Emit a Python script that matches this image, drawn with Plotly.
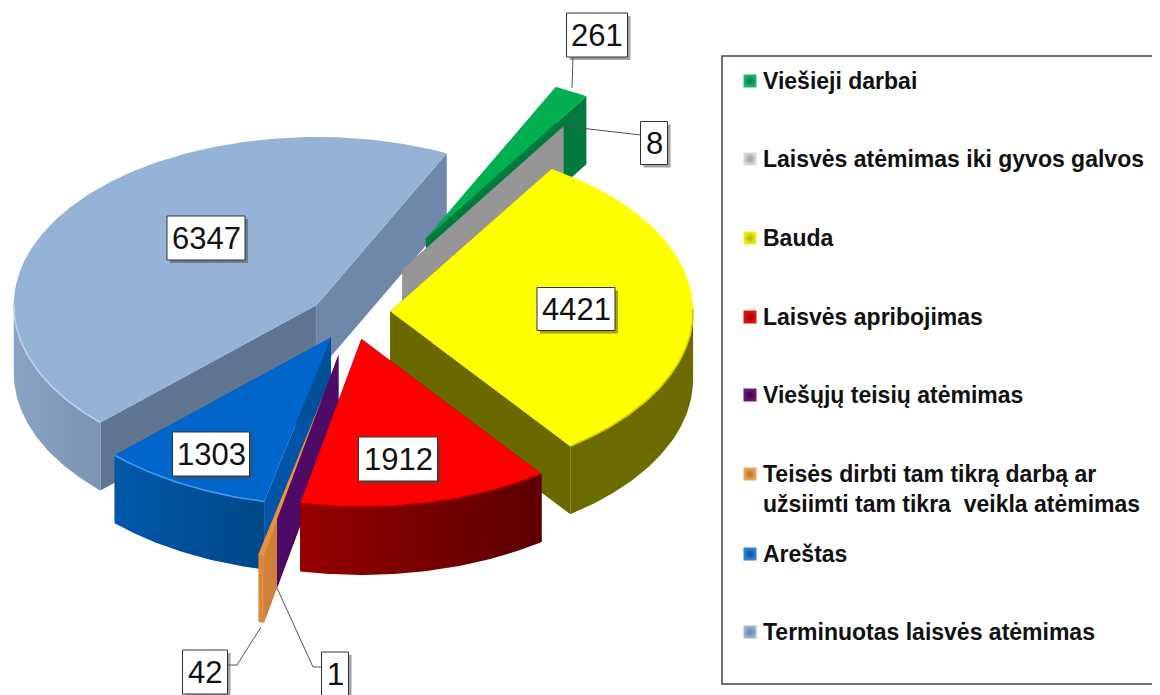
import numpy as np
import plotly.graph_objects as go

categories = ["Viešieji darbai", "Laisvės atėmimas iki gyvos galvos", "Bauda", "Laisvės apribojimas",
              "Viešųjų teisių atėmimas", "Teisės dirbti tam tikrą darbą ar<br>užsiimti tam tikra  veikla atėmimas",
              "Areštas", "Terminuotas laisvės atėmimas"]
values = [261, 8, 4421, 1912, 1, 42, 1303, 6347]

# styling / projection
explode = [0.524, 0.327, 0.1335, 0.1335, 0.20, 0.44, 0.1335, 0.1335]
nudge_x = [0, 0, 0, 3, 1, 4, 1, 0]
nudge_y = [0, 0, -4, 1, 6, 2, 2, 2]
top_col = ["#00b050", "#a6a6a6", "#ffff00", "#ff0000", "#4f0a66", "#e8913f", "#0066cc", "#95b3d7"]
wall_a = ["#00733b", "#8a8a8a", "#666600", "#7a0000", "#4f0a66", "#cf8038", "#0055a8", "#5f7591"]  # clockwise-first edge
wall_b = ["#007a3d", "#969696", "#696900", "#7a0000", "#4f0a66", "#cf8038", "#004f99", "#6f88a9"]  # clockwise-last edge
outer_l = ["#00733b", "#8a8a8a", "#6b6b00", "#960000", "#4f0a66", "#d98a40", "#0058aa", "#8aa3c4"]
outer_r = ["#00733b", "#8a8a8a", "#6b6b00", "#5c0000", "#4f0a66", "#d98a40", "#004888", "#7c94b3"]
rim = ["#00a04a", "#a6a6a6", "#d0d000", "#a80000", "#4f0a66", "#e8913f", "#3f9cf5", "#bcd3f0"]
draw_order = [7, 0, 1, 2, 6, 5, 4, 3]
CX, CY, RX, RY, DEPTH = 349.7, 316.0, 303.0, 168.0, 68.0
START_DEG = 64.6
PAGE_MARGIN = 8  # the browser's default body margin

label_xy = [(597, 35), (654, 143), (576, 309), (398, 459), (335, 674), (205, 672), (211, 454), (206, 238)]
label_wh = [(61, 44), (27, 43), (78, 43), (79, 44), (27, 44), (45, 44), (77, 44), (78, 44)]
leader_x = [[573, 572], [641, 563], None, None, [322, 313, 277], [228, 237, 261], None, None]
leader_y = [[57, 88], [135, 126], None, None, [667, 667, 588], [665, 665, 627], None, None]
legend_y = [81, 159, 238, 317, 395, 489, 554, 632]
swatch_y = [81, 159, 238, 317, 395, 474, 554, 632]
swatch_c = ["#22b56c", "#dadada", "#f0f020", "#e81010", "#6b1a7a", "#eca65a", "#2a84d8", "#a0bad8"]
swatch_e = ["#007a3d", "#9a9a9a", "#b0b000", "#9c0000", "#3a0045", "#b87028", "#0a4f94", "#5f7c9f"]
LEGEND_FONT = 23

fig = go.Figure()


def poly(xs, ys, color=None, grad=None):
    kw = dict(fillcolor=color) if grad is None else dict(
        fillgradient=dict(type="horizontal", colorscale=[[0, grad[0]], [1, grad[1]]]))
    fig.add_trace(go.Scatter(x=xs, y=ys, mode="lines", fill="toself", line=dict(width=0),
                             hoverinfo="skip", showlegend=False, **kw))


total = sum(values)
ends = START_DEG - np.cumsum(values) / total * 360
starts = np.r_[START_DEG, ends[:-1]]

for i in draw_order:
    a0, a1 = np.radians(starts[i]), np.radians(ends[i])
    mid = (a0 + a1) / 2
    ax = CX + explode[i] * RX * np.cos(mid) + nudge_x[i]
    ay = CY - explode[i] * RY * np.sin(mid) + nudge_y[i]
    t = np.linspace(a0, a1, max(3, int(abs(starts[i] - ends[i]) * 1.5)))
    ex = ax + RX * np.cos(t)
    ey = ay - RY * np.sin(t)
    # radial walls
    poly([ax, ex[0], ex[0], ax, ax], [ay, ey[0], ey[0] + DEPTH, ay + DEPTH, ay], wall_a[i])
    poly([ax, ex[-1], ex[-1], ax, ax], [ay, ey[-1], ey[-1] + DEPTH, ay + DEPTH, ay], wall_b[i])
    # outer wall, front part only
    front = np.sin(t) < 0.02
    if front.sum() > 1:
        fx, fy = ex[front], ey[front]
        poly(np.r_[fx, fx[::-1], fx[0]], np.r_[fy, fy[::-1] + DEPTH, fy[0]], grad=(outer_l[i], outer_r[i]))
    # top face
    poly(np.r_[ax, ex, ax], np.r_[ay, ey, ay], top_col[i])
    if front.sum() > 1:
        fig.add_trace(go.Scatter(x=ex[front], y=ey[front], mode="lines", line=dict(color=rim[i], width=1.6),
                                 hoverinfo="skip", showlegend=False))

shapes = []
annotations = []

# leaders
for lx, ly in zip(leader_x, leader_y):
    if lx is not None:
        fig.add_trace(go.Scatter(x=lx, y=ly, mode="lines", line=dict(color="#555555", width=1),
                                 hoverinfo="skip", showlegend=False))

# value labels
for v, (x, y), (w, h) in zip(values, label_xy, label_wh):
    shapes.append(dict(type="rect", x0=x - w / 2 + 3, x1=x + w / 2 + 3, y0=y - h / 2 + 3, y1=y + h / 2 + 3,
                       fillcolor="rgba(70,70,70,0.5)", line=dict(width=0), layer="above"))
    shapes.append(dict(type="rect", x0=x - w / 2, x1=x + w / 2, y0=y - h / 2, y1=y + h / 2,
                       fillcolor="white", line=dict(color="#333333", width=1), layer="above"))
    annotations.append(dict(x=x, y=y, text=str(v), showarrow=False, xanchor="center", yanchor="middle",
                            font=dict(family="Liberation Sans", size=31, color="#111111")))

# legend box
shapes.append(dict(type="rect", x0=722, x1=1170, y0=56, y1=684, line=dict(color="#444444", width=1.5),
                   fillcolor="rgba(0,0,0,0)", layer="below"))

fig.add_trace(go.Scatter(x=[750] * len(categories), y=swatch_y, mode="markers",
                         marker=dict(symbol="square", size=13, color=swatch_c,
                                     gradient=dict(type="radial", color=swatch_e),
                                     line=dict(width=0)),
                         hoverinfo="skip", showlegend=False))
for name, y in zip(categories, legend_y):
    annotations.append(dict(x=761, y=y, text="<b>" + name + "</b>", showarrow=False, xanchor="left", yanchor="middle",
                            align="left", font=dict(family="Liberation Sans", size=LEGEND_FONT, color="#111111")))

fig.update_layout(
    width=1160 - PAGE_MARGIN, height=695 - PAGE_MARGIN, margin=dict(l=0, r=0, t=0, b=0),
    paper_bgcolor="white", plot_bgcolor="white", showlegend=False,
    xaxis=dict(range=[PAGE_MARGIN, 1160], visible=False, fixedrange=True),
    yaxis=dict(range=[695, PAGE_MARGIN], visible=False, fixedrange=True),
    shapes=shapes, annotations=annotations,
)
fig.write_html("out.html")
